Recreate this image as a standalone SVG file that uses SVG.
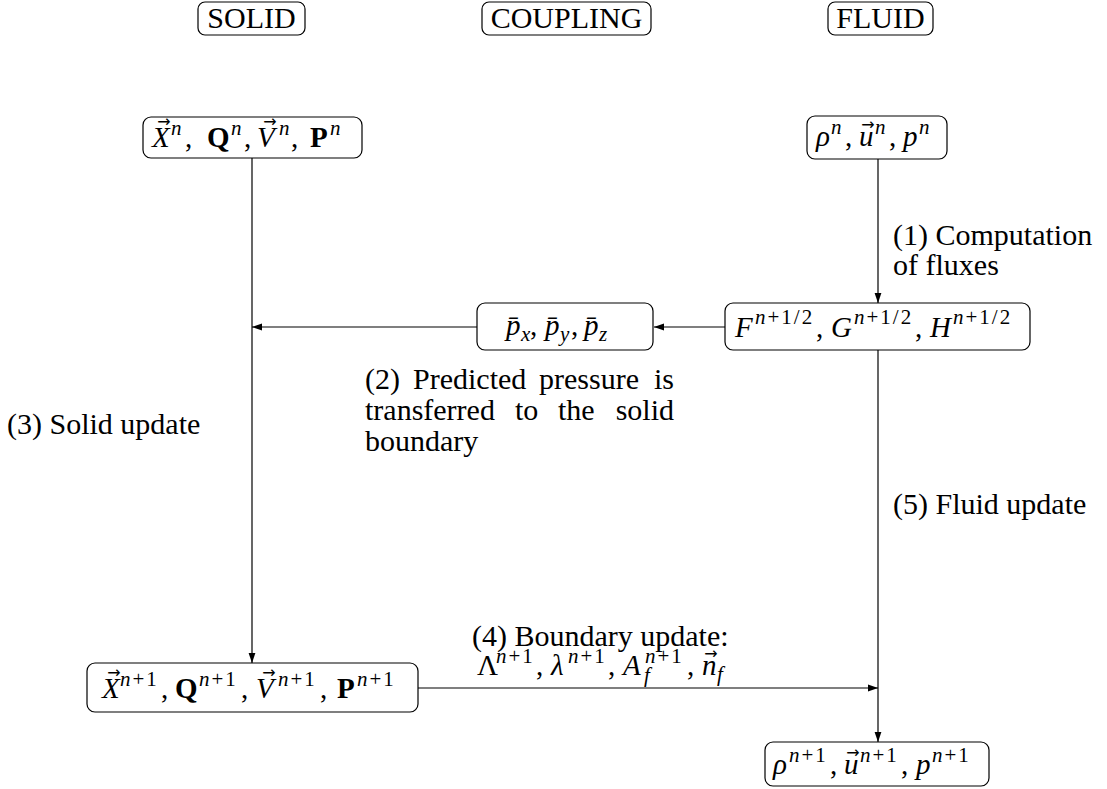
<svg xmlns="http://www.w3.org/2000/svg" width="1107" height="789" viewBox="0 0 1107 789">
  <style>
    text { font-family: "Liberation Serif", "Times New Roman", serif; font-size: 30px; fill: #000; }
    .m { font-size: 29px; }
    .i { font-style: italic; }
    .b { font-weight: bold; }
    .s { font-size: 21px; }
    .sp { font-size: 21px; letter-spacing: 2px; }
    .vec { font-family: "DejaVu Sans", sans-serif; font-size: 16px; }
    .box { fill: #fff; stroke: #000; stroke-width: 1.2; }
    .edge { fill: none; stroke: #000; stroke-width: 1.2; }
  </style>
  <defs>
    <marker id="arr" markerWidth="10" markerHeight="8" refX="10" refY="4" orient="auto" markerUnits="userSpaceOnUse">
      <path d="M0,0.6 L10,4 L0,7.4 Z" fill="#000"/>
    </marker>
  </defs>

  <rect width="1107" height="789" fill="#fff"/>

  <!-- column headers -->
  <g id="hdr-solid">
    <rect class="box" x="198" y="2" width="107" height="33" rx="7"/>
    <text x="251.5" y="28" text-anchor="middle">SOLID</text>
  </g>
  <g id="hdr-coupling">
    <rect class="box" x="482" y="2" width="169" height="33" rx="7"/>
    <text x="566.5" y="28" text-anchor="middle">COUPLING</text>
  </g>
  <g id="hdr-fluid">
    <rect class="box" x="828" y="2" width="105" height="33" rx="7"/>
    <text x="880.5" y="28" text-anchor="middle">FLUID</text>
  </g>

  <!-- connectors -->
  <g id="connectors">
    <path class="edge" d="M878,159 V303" marker-end="url(#arr)"/>
    <path class="edge" d="M725,327 H654" marker-end="url(#arr)"/>
    <path class="edge" d="M477,327 H252" marker-end="url(#arr)"/>
    <path class="edge" d="M252,158 V663" marker-end="url(#arr)"/>
    <path class="edge" d="M418,688 H878" marker-end="url(#arr)"/>
    <path class="edge" d="M878,350 V742" marker-end="url(#arr)"/>
  </g>

  <!-- solid state at time n -->
  <g id="solid-n">
    <rect class="box" x="143" y="117" width="219" height="41" rx="8"/>
    <text class="m" y="147"><tspan class="i" x="152">X</tspan><tspan class="s i" x="171" dy="-12">n</tspan><tspan x="185" dy="12">,</tspan><tspan class="b" x="207">Q</tspan><tspan class="s i" x="231" dy="-12">n</tspan><tspan x="244" dy="12">,</tspan><tspan class="i" x="257">V</tspan><tspan class="s i" x="279" dy="-12">n</tspan><tspan x="291" dy="12">,</tspan><tspan class="b" x="310">P</tspan><tspan class="s i" x="330" dy="-12">n</tspan></text>
    <text class="vec" x="164" y="127" text-anchor="middle">→</text>
    <text class="vec" x="270" y="127" text-anchor="middle">→</text>
  </g>

  <!-- fluid state at time n -->
  <g id="fluid-n">
    <rect class="box" x="807" y="116" width="140" height="43" rx="8"/>
    <text class="m" y="146"><tspan class="i" x="816">ρ</tspan><tspan class="s i" x="831" dy="-12">n</tspan><tspan x="845" dy="12">,</tspan><tspan class="i" x="859">u</tspan><tspan class="s i" x="875" dy="-12">n</tspan><tspan x="889" dy="12">,</tspan><tspan class="i" x="903">p</tspan><tspan class="s i" x="919" dy="-12">n</tspan></text>
    <text class="vec" x="868" y="130" text-anchor="middle">→</text>
  </g>

  <!-- fluxes -->
  <g id="fluxes">
    <rect class="box" x="725" y="303" width="305" height="47" rx="8"/>
    <text class="m" y="337"><tspan class="i" x="735">F</tspan><tspan class="sp" x="755" dy="-13"><tspan class="i">n</tspan>+1/2</tspan><tspan x="816" dy="13">,</tspan><tspan class="i" x="831">G</tspan><tspan class="sp" x="854" dy="-13"><tspan class="i">n</tspan>+1/2</tspan><tspan x="915" dy="13">,</tspan><tspan class="i" x="930">H</tspan><tspan class="sp" x="953" dy="-13"><tspan class="i">n</tspan>+1/2</tspan></text>
  </g>

  <!-- predicted pressure -->
  <g id="pressure">
    <rect class="box" x="477" y="303" width="176" height="47" rx="8"/>
    <text class="m" y="335"><tspan class="i" x="506">p̄</tspan><tspan class="s i" x="521" dy="6">x</tspan><tspan x="530" dy="-6">,</tspan><tspan class="i" x="545">p̄</tspan><tspan class="s i" x="560" dy="6">y</tspan><tspan x="571" dy="-6">,</tspan><tspan class="i" x="584">p̄</tspan><tspan class="s i" x="599" dy="6">z</tspan></text>
  </g>

  <!-- solid state at time n+1 -->
  <g id="solid-n1">
    <rect class="box" x="87" y="663" width="331" height="49" rx="8"/>
    <text class="m" y="698"><tspan class="i" x="102">X</tspan><tspan class="sp" x="120" dy="-12"><tspan class="i">n</tspan>+1</tspan><tspan x="161" dy="12">,</tspan><tspan class="b" x="175">Q</tspan><tspan class="sp" x="199" dy="-12"><tspan class="i">n</tspan>+1</tspan><tspan x="241" dy="12">,</tspan><tspan class="i" x="256">V</tspan><tspan class="sp" x="278" dy="-12"><tspan class="i">n</tspan>+1</tspan><tspan x="320" dy="12">,</tspan><tspan class="b" x="337">P</tspan><tspan class="sp" x="357" dy="-12"><tspan class="i">n</tspan>+1</tspan></text>
    <text class="vec" x="114" y="678" text-anchor="middle">→</text>
    <text class="vec" x="269" y="678" text-anchor="middle">→</text>
  </g>

  <!-- fluid state at time n+1 -->
  <g id="fluid-n1">
    <rect class="box" x="765" y="742" width="224" height="44" rx="8"/>
    <text class="m" y="774"><tspan class="i" x="773">ρ</tspan><tspan class="sp" x="789" dy="-12"><tspan class="i">n</tspan>+1</tspan><tspan x="830" dy="12">,</tspan><tspan class="i" x="844">u</tspan><tspan class="sp" x="860" dy="-12"><tspan class="i">n</tspan>+1</tspan><tspan x="901" dy="12">,</tspan><tspan class="i" x="916">p</tspan><tspan class="sp" x="932" dy="-12"><tspan class="i">n</tspan>+1</tspan></text>
    <text class="vec" x="853" y="758" text-anchor="middle">→</text>
  </g>

  <!-- step labels -->
  <g id="labels">
    <text x="893" y="245">(1) Computation</text>
    <text x="893" y="275">of fluxes</text>

    <text y="389"><tspan x="365">(2)</tspan><tspan x="413">Predicted</tspan><tspan x="539">pressure</tspan></text>
    <text x="674" y="389" text-anchor="end">is</text>
    <text y="420"><tspan x="365">transferred</tspan><tspan x="515">to</tspan><tspan x="558">the</tspan></text>
    <text x="674" y="420" text-anchor="end">solid</text>
    <text x="365" y="451">boundary</text>

    <text x="7" y="434">(3) Solid update</text>

    <text x="472" y="646">(4) Boundary update:</text>
    <text class="m" y="675"><tspan x="477">Λ</tspan><tspan class="sp" x="496" dy="-12"><tspan class="i">n</tspan>+1</tspan><tspan x="536" dy="12">,</tspan><tspan class="i" x="551">λ</tspan><tspan class="sp" x="568" dy="-12"><tspan class="i">n</tspan>+1</tspan><tspan x="608" dy="12">,</tspan><tspan class="i" x="623">A</tspan><tspan class="sp" x="645" dy="-12"><tspan class="i">n</tspan>+1</tspan><tspan class="s i" x="644" dy="19">f</tspan><tspan x="687" dy="-7">,</tspan><tspan class="i" x="702">n</tspan><tspan class="s i" x="717" dy="6">f</tspan></text>
    <text class="vec" x="711" y="659" text-anchor="middle">→</text>

    <text x="893" y="514">(5) Fluid update</text>
  </g>
</svg>
